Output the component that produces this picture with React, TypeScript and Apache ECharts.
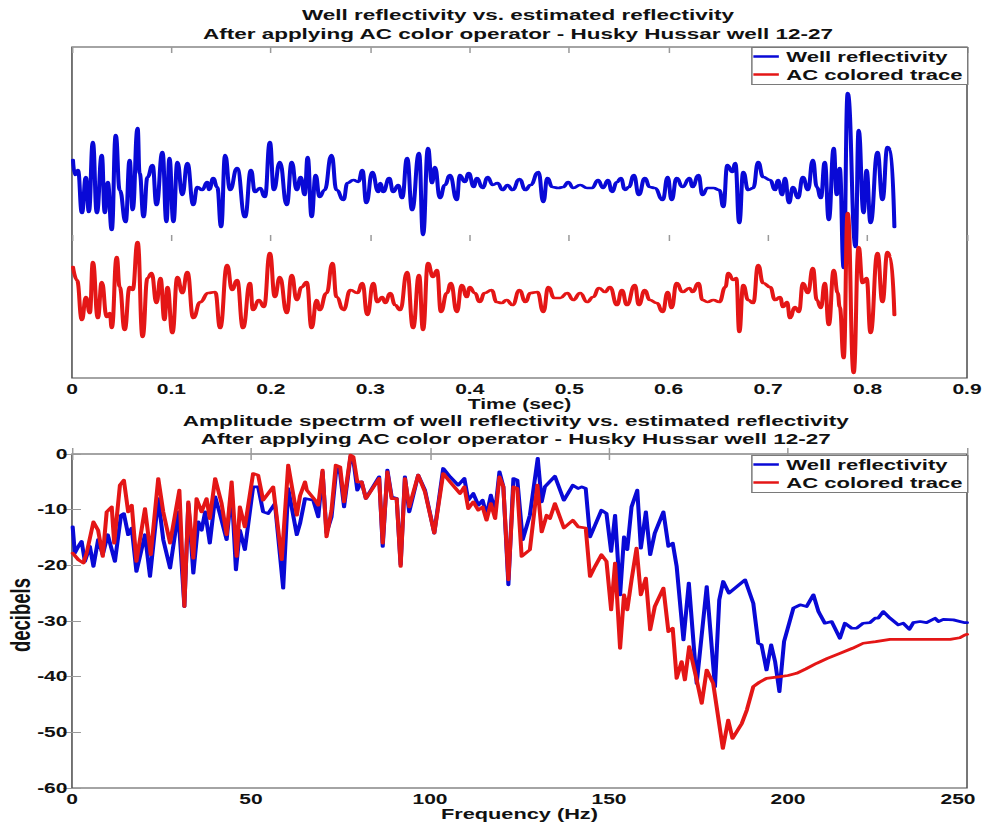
import React, { useEffect, useRef } from "react";
import * as echarts from "echarts";

// ---- Reflectivity traces: [time (s), amplitude about the trace baseline] ----
const wellReflectivity: [number, number][] = [
  [0.001, 0.052], [0.003, 0.022], [0.006, 0.032], [0.010, -0.054], [0.014, 0.018], [0.017, -0.052], [0.021, 0.088], [0.025, -0.054], [0.030, 0.062], [0.033, -0.054],
  [0.036, 0.008], [0.040, -0.088], [0.044, 0.102], [0.048, -0.008], [0.054, -0.072], [0.058, 0.052], [0.061, -0.048], [0.066, 0.116], [0.068, 0.026], [0.072, -0.062],
  [0.076, 0.018], [0.081, 0.042], [0.085, -0.038], [0.091, 0.068], [0.095, -0.072], [0.098, 0.056], [0.102, -0.072], [0.106, 0.048], [0.111, -0.018], [0.116, 0.046],
  [0.122, -0.038], [0.126, -0.002], [0.131, -0.008], [0.136, 0.008], [0.138, -0.008], [0.142, 0.016], [0.146, -0.002], [0.150, -0.082], [0.154, 0.062], [0.159, -0.008],
  [0.166, 0.036], [0.174, -0.062], [0.180, 0.032], [0.184, -0.012], [0.189, -0.004], [0.194, -0.022], [0.199, 0.088], [0.203, -0.008], [0.209, 0.048], [0.216, -0.038],
  [0.221, 0.048], [0.226, -0.008], [0.230, 0.018], [0.234, -0.018], [0.237, 0.058], [0.241, -0.062], [0.245, 0.022], [0.249, -0.022], [0.254, -0.008], [0.261, 0.062],
  [0.266, -0.008], [0.273, -0.028], [0.277, 0.006], [0.283, 0.012], [0.288, 0.008], [0.292, 0.032], [0.296, -0.034], [0.302, 0.028], [0.308, -0.012], [0.310, 0.006],
  [0.313, -0.012], [0.319, 0.016], [0.323, -0.012], [0.328, 0.002], [0.332, -0.024], [0.337, 0.056], [0.342, -0.048], [0.349, 0.066], [0.353, -0.098], [0.358, 0.076],
  [0.362, 0.006], [0.365, 0.038], [0.370, -0.024], [0.375, 0.002], [0.380, 0.022], [0.387, -0.028], [0.390, 0.022], [0.395, 0.008], [0.399, 0.026], [0.404, -0.002],
  [0.407, 0.016], [0.413, -0.004], [0.418, 0.018], [0.423, 0.002], [0.428, 0.006], [0.433, -0.008], [0.438, 0.002], [0.443, -0.008], [0.450, 0.014], [0.456, -0.008],
  [0.461, 0.002], [0.469, 0.028], [0.474, -0.032], [0.478, 0.016], [0.483, -0.002], [0.489, -0.004], [0.494, -0.002], [0.499, 0.008], [0.504, -0.004], [0.511, 0.002],
  [0.518, -0.004], [0.523, -0.004], [0.529, 0.012], [0.534, -0.004], [0.539, 0.012], [0.543, -0.012], [0.548, 0.008], [0.552, 0.016], [0.556, -0.008], [0.560, -0.002],
  [0.565, 0.022], [0.570, -0.018], [0.576, 0.016], [0.581, -0.002], [0.586, -0.004], [0.594, -0.028], [0.599, 0.018], [0.603, -0.028], [0.608, 0.016], [0.614, -0.002],
  [0.621, 0.016], [0.624, -0.002], [0.630, 0.022], [0.634, -0.018], [0.639, -0.004], [0.645, -0.004], [0.651, -0.008], [0.655, -0.042], [0.659, 0.042], [0.664, 0.028],
  [0.667, 0.046], [0.671, -0.074], [0.675, 0.028], [0.680, -0.008], [0.685, -0.004], [0.690, 0.048], [0.695, 0.018], [0.702, 0.012], [0.707, -0.008], [0.710, 0.012],
  [0.714, -0.018], [0.717, 0.016], [0.721, -0.034], [0.725, -0.002], [0.730, -0.024], [0.735, 0.018], [0.740, -0.008], [0.745, 0.052], [0.749, -0.002], [0.753, -0.024],
  [0.757, 0.048], [0.761, -0.068], [0.766, 0.076], [0.769, -0.018], [0.772, 0.036], [0.776, -0.164], [0.780, 0.186], [0.788, -0.122], [0.791, 0.112], [0.796, -0.054],
  [0.799, 0.032], [0.803, -0.074], [0.810, 0.068], [0.815, -0.028], [0.820, 0.078], [0.823, 0.072], [0.827, -0.082],
];

const acColoredTrace: [number, number][] = [
  [0.001, 0.058], [0.005, 0.032], [0.010, -0.048], [0.014, -0.002], [0.018, -0.034], [0.021, 0.068], [0.026, -0.044], [0.030, 0.028], [0.035, -0.042], [0.038, -0.034],
  [0.040, -0.064], [0.045, 0.078], [0.048, 0.018], [0.053, -0.068], [0.058, 0.018], [0.061, 0.012], [0.066, 0.108], [0.071, -0.082], [0.076, 0.036], [0.080, 0.046],
  [0.085, -0.014], [0.089, 0.036], [0.093, -0.048], [0.096, 0.018], [0.101, -0.074], [0.106, 0.038], [0.111, 0.006], [0.116, 0.048], [0.122, -0.044], [0.129, -0.012],
  [0.137, 0.006], [0.144, 0.008], [0.149, -0.064], [0.156, 0.062], [0.161, 0.012], [0.166, 0.032], [0.172, -0.064], [0.179, 0.026], [0.182, -0.028], [0.188, -0.008],
  [0.193, -0.022], [0.199, 0.086], [0.204, -0.002], [0.209, 0.038], [0.216, -0.034], [0.221, 0.042], [0.226, -0.008], [0.231, 0.018], [0.236, 0.028], [0.241, -0.064],
  [0.246, -0.008], [0.249, -0.028], [0.256, 0.006], [0.262, 0.066], [0.266, -0.002], [0.273, -0.028], [0.280, 0.012], [0.287, 0.006], [0.292, 0.026], [0.297, -0.038],
  [0.303, 0.026], [0.307, -0.012], [0.312, -0.002], [0.315, -0.014], [0.320, 0.006], [0.325, -0.018], [0.330, -0.028], [0.337, 0.048], [0.343, -0.064], [0.349, 0.042],
  [0.353, -0.068], [0.358, 0.066], [0.363, 0.038], [0.367, 0.052], [0.371, -0.032], [0.377, 0.006], [0.381, 0.026], [0.387, -0.032], [0.392, 0.022], [0.397, -0.002],
  [0.400, 0.018], [0.405, 0.006], [0.410, -0.012], [0.415, 0.006], [0.422, 0.012], [0.427, -0.012], [0.432, -0.014], [0.437, -0.008], [0.443, -0.018], [0.450, 0.012],
  [0.456, -0.012], [0.461, 0.006], [0.468, 0.008], [0.474, -0.032], [0.479, 0.018], [0.485, -0.004], [0.491, -0.004], [0.498, 0.006], [0.504, -0.008], [0.511, 0.006],
  [0.518, -0.012], [0.524, -0.002], [0.530, 0.016], [0.536, 0.008], [0.541, 0.018], [0.548, -0.018], [0.553, 0.012], [0.558, -0.018], [0.566, 0.022], [0.570, -0.018],
  [0.576, 0.012], [0.581, -0.008], [0.588, -0.014], [0.594, -0.032], [0.599, 0.008], [0.603, -0.024], [0.608, 0.026], [0.614, 0.008], [0.621, 0.016], [0.624, 0.008],
  [0.630, 0.026], [0.634, -0.008], [0.639, -0.012], [0.645, -0.008], [0.651, -0.012], [0.657, 0.018], [0.660, 0.046], [0.665, 0.032], [0.668, 0.036], [0.671, -0.072],
  [0.675, 0.022], [0.680, -0.008], [0.685, -0.014], [0.690, 0.062], [0.695, 0.026], [0.702, 0.018], [0.707, -0.008], [0.712, -0.002], [0.715, -0.022], [0.719, -0.012],
  [0.722, -0.044], [0.727, -0.022], [0.731, -0.032], [0.735, 0.026], [0.740, 0.006], [0.745, 0.056], [0.749, -0.008], [0.753, -0.024], [0.757, 0.026], [0.761, -0.058],
  [0.766, 0.052], [0.770, 0.006], [0.772, -0.022], [0.776, -0.124], [0.780, 0.166], [0.786, -0.154], [0.791, 0.098], [0.795, 0.026], [0.799, 0.036], [0.803, -0.074],
  [0.810, 0.086], [0.815, -0.012], [0.820, 0.088], [0.823, 0.078], [0.827, -0.038],
];

// Vertical separation of the two traces in the time panel
const TRACE_OFFSET = 0.11;

// ---- Amplitude spectra: [frequency (Hz), decibels] ----
const wellSpectrum: [number, number][] = [
  [0.2, -13.1], [0.8, -17.8], [1.8, -16.6], [2.7, -15.7], [3.6, -19.3], [5.0, -16.6], [6.0, -20.2], [7.3, -15.4], [8.6, -18.1], [10.0, -14.5],
  [12.0, -19.3], [13.7, -11.0], [14.5, -10.7], [15.7, -14.5], [16.7, -13.3], [18.0, -21.1], [20.4, -14.5], [21.8, -22.0], [24.1, -8.0], [25.5, -15.4],
  [27.4, -20.5], [29.7, -10.4], [31.4, -27.4], [32.5, -8.9], [33.9, -21.4], [35.3, -12.2], [36.2, -13.7], [37.2, -10.4], [38.5, -16.0], [40.0, -7.7],
  [41.3, -10.7], [43.2, -15.4], [44.6, -6.5], [45.8, -20.8], [46.9, -13.7], [48.3, -17.2], [50.6, -5.9], [52.0, -5.9], [53.4, -10.4], [54.8, -10.7],
  [56.7, -8.9], [59.0, -24.1], [60.4, -6.2], [62.8, -14.5], [63.7, -12.5], [65.1, -8.0], [67.4, -8.3], [68.8, -11.3], [70.0, -3.2], [71.1, -14.2],
  [72.5, -11.3], [73.9, -2.3], [74.9, -3.5], [76.0, -9.5], [77.8, -0.5], [78.6, -1.1], [79.7, -6.5], [80.9, -5.0], [82.1, -8.0], [85.8, -4.1],
  [86.8, -16.6], [88.1, -2.9], [89.3, -7.7], [90.7, -8.0], [91.8, -19.9], [93.0, -4.1], [94.2, -10.4], [96.7, -3.8], [98.6, -6.5], [101.2, -14.2],
  [103.7, -2.6], [105.6, -4.1], [107.9, -5.6], [109.6, -4.4], [110.7, -8.3], [112.1, -7.1], [113.5, -9.2], [114.7, -8.3], [115.8, -11.0], [117.0, -7.4],
  [118.2, -10.4], [119.4, -3.2], [120.5, -5.9], [121.9, -23.5], [123.3, -4.4], [124.4, -4.7], [125.9, -15.4], [127.9, -11.0], [130.1, -0.8], [131.2, -8.6],
  [132.1, -5.9], [134.9, -4.0], [137.4, -8.3], [139.9, -5.6], [141.4, -6.2], [142.4, -5.9], [143.5, -6.2], [144.7, -14.9], [146.1, -12.8], [147.9, -10.1],
  [149.3, -10.7], [150.6, -17.5], [151.7, -11.0], [153.1, -25.3], [154.2, -14.9], [155.1, -17.2], [156.3, -9.5], [157.9, -6.5], [158.9, -16.9], [160.3, -10.4],
  [161.5, -18.1], [162.8, -14.2], [165.2, -10.4], [166.6, -16.6], [167.8, -16.0], [168.9, -20.2], [170.8, -33.4], [172.3, -23.2], [174.5, -41.2], [177.3, -23.8],
  [179.6, -41.8], [180.8, -26.2], [181.9, -22.9], [183.5, -25.0], [188.0, -22.6], [190.3, -26.8], [191.7, -34.0], [192.6, -34.3], [194.0, -38.8], [195.3, -34.3],
  [196.4, -37.3], [197.6, -42.7], [198.9, -33.7], [201.5, -27.7], [203.4, -27.1], [205.2, -27.4], [207.1, -25.3], [208.5, -28.3], [210.3, -30.4], [212.2, -30.1],
  [214.5, -33.1], [215.9, -30.4], [217.8, -31.3], [219.2, -31.3], [221.0, -30.4], [222.9, -30.3], [224.3, -29.5], [225.2, -29.5], [226.6, -28.3], [228.5, -29.5],
  [230.8, -30.7], [232.2, -30.4], [233.9, -31.5], [235.0, -30.3], [236.9, -30.1], [238.7, -30.3], [241.1, -29.5], [242.0, -30.1], [243.4, -29.7], [246.2, -29.8],
  [249.4, -30.3], [250.0, -30.3],
];

const acSpectrum: [number, number][] = [
  [0.2, -17.8], [1.8, -19.0], [3.2, -19.6], [4.1, -17.8], [6.0, -12.2], [7.3, -13.7], [8.6, -18.4], [9.7, -10.4], [11.1, -9.5], [11.8, -16.0],
  [13.4, -5.6], [14.5, -4.7], [15.7, -10.4], [16.7, -9.2], [18.0, -19.3], [20.4, -9.8], [22.0, -18.1], [24.1, -4.4], [25.5, -10.4], [27.4, -16.0],
  [30.0, -6.5], [31.4, -27.4], [32.5, -8.6], [33.9, -18.7], [34.8, -8.0], [36.2, -10.4], [37.6, -8.0], [38.5, -11.6], [40.0, -4.4], [41.8, -8.9],
  [43.2, -14.5], [44.6, -5.0], [46.0, -18.4], [46.9, -9.5], [48.3, -13.1], [50.6, -3.5], [52.0, -3.8], [53.4, -8.3], [56.2, -5.9], [58.6, -19.0],
  [60.4, -2.0], [62.8, -11.0], [63.7, -7.5], [65.1, -5.0], [65.6, -6.5], [67.9, -8.3], [68.8, -9.2], [70.0, -2.9], [71.1, -14.9], [72.5, -10.1],
  [73.7, -2.0], [74.9, -2.3], [76.0, -8.6], [77.8, -0.2], [78.6, -0.5], [79.7, -5.0], [80.9, -5.0], [82.1, -8.0], [85.8, -4.4], [86.8, -16.0],
  [88.1, -3.2], [89.3, -8.0], [90.7, -8.0], [91.8, -20.2], [93.0, -4.4], [94.2, -9.5], [96.7, -3.8], [98.6, -6.8], [101.2, -14.2], [103.7, -3.5],
  [105.6, -5.0], [108.4, -7.1], [109.6, -5.9], [110.7, -9.8], [112.1, -8.6], [113.5, -10.1], [114.7, -9.5], [115.8, -11.9], [117.0, -8.9], [118.2, -11.6],
  [119.4, -4.1], [120.5, -5.9], [121.9, -22.6], [123.3, -5.9], [124.4, -6.2], [125.6, -18.4], [127.9, -17.2], [130.0, -5.6], [131.2, -14.0], [132.6, -11.0],
  [133.5, -11.6], [134.9, -8.9], [137.4, -13.3], [139.9, -11.9], [141.4, -13.1], [143.5, -13.3], [144.7, -22.0], [146.1, -20.2], [147.9, -18.1], [149.3, -19.3],
  [150.6, -28.0], [151.7, -19.6], [153.1, -34.9], [154.2, -25.3], [155.1, -28.0], [156.3, -22.6], [157.7, -16.9], [158.9, -25.3], [160.3, -22.3], [161.5, -31.6],
  [162.8, -27.4], [165.2, -24.1], [166.6, -31.9], [167.8, -31.3], [168.9, -40.3], [170.3, -37.3], [171.2, -40.6], [172.4, -34.6], [174.5, -40.6], [175.9, -44.8],
  [177.3, -38.8], [179.1, -41.2], [181.8, -52.9], [183.3, -47.8], [184.5, -51.1], [187.1, -48.4], [188.5, -46.0], [190.3, -41.8], [192.0, -41.0], [194.0, -40.3],
  [197.8, -40.0], [200.0, -39.8], [202.4, -39.4], [205.0, -38.6], [208.0, -37.6], [211.0, -36.7], [214.5, -35.8], [218.0, -34.9], [221.0, -34.0], [224.5, -33.7],
  [228.5, -33.3], [232.0, -33.3], [237.8, -33.3], [241.5, -33.3], [245.3, -33.3], [248.0, -33.0], [249.4, -32.5], [250.0, -32.4],
];

// ---- Axis ranges ----
const TIME_MIN = 0;
const TIME_MAX = 0.9;
const TIME_STEP = 0.1;
const FREQ_MIN = 0;
const FREQ_MAX = 250;
const FREQ_STEP = 50;
const DB_MIN = -60;
const DB_MAX = 0;
const DB_STEP = 10;
const TRACE_AXIS_MIN = -0.274;
const TRACE_AXIS_MAX = 0.388;

const SERIES_NAMES = ["Well reflectivity", "AC colored trace"];

// The figure is laid out on a narrow canvas and stretched horizontally.
const PAGE_W = 982;
const PAGE_H = 823;
const BASE_W = 655;

// Panel frames (in the narrow canvas)
const PLOT_LEFT = 48;
const PLOT_RIGHT = 10;
const TOP_PANEL = { top: 47, height: 331 };
const BOTTOM_PANEL = { top: 454, height: 334 };
const LEGEND_BOX = { width: 144, height: 37 };

const FONT = "'Liberation Sans', Arial, Helvetica, sans-serif";
const BLUE = "#0909d6";
const RED = "#e41616";
const FRAME = "#4a4a4a";
const TICK = "#9a9a9a";
const TEXT = "#111111";

const tickLabel = {
  fontFamily: FONT,
  fontSize: 14,
  fontWeight: "bold" as const,
  color: TEXT,
};

const fmtTime = (v: number) => String(Math.round(v * 10) / 10);
// The last frequency label sits a little inside the right frame edge.
const fmtFreq = (v: number) => (v === FREQ_MAX ? `{edge|${v}}` : `${v}`);

function buildOption(): echarts.EChartsOption {
  const boxLeft = BASE_W - PLOT_RIGHT - LEGEND_BOX.width;

  const legendBase = {
    orient: "vertical" as const,
    left: boxLeft + 1.5,
    icon: "rect",
    itemWidth: 17,
    itemHeight: 2.5,
    itemGap: 3,
    padding: [2, 2, 2, 0],
    borderWidth: 0,
    backgroundColor: "transparent",
    selectedMode: false as const,
    data: SERIES_NAMES,
    textStyle: {
      fontFamily: FONT,
      fontSize: 14.7,
      fontWeight: "bold" as const,
      color: TEXT,
    },
  };

  const legendFrame = (top: number) => ({
    type: "rect" as const,
    z: 3,
    silent: true,
    shape: {
      x: boxLeft + 0.5,
      y: top + 0.5,
      width: LEGEND_BOX.width,
      height: LEGEND_BOX.height,
    },
    style: { fill: "#ffffff", stroke: "#7a7a7a", lineWidth: 1 },
  });

  const titleStyle = {
    fontFamily: FONT,
    fontSize: 15,
    fontWeight: "bold" as const,
    color: TEXT,
    lineHeight: 18.5,
  };

  const lineSeries = (
    name: string,
    color: string,
    data: number[][],
    xi: number,
    yi: number,
    smooth: number | boolean
  ) => ({
    type: "line" as const,
    name,
    xAxisIndex: xi,
    yAxisIndex: yi,
    data,
    symbol: "none",
    smooth,
    smoothMonotone: "x" as const,
    lineStyle: { color, width: 2.7, join: "round" as const, cap: "round" as const },
    itemStyle: { color },
    emphasis: { disabled: true },
    silent: true,
  });

  const gridBase = {
    left: PLOT_LEFT,
    right: PLOT_RIGHT,
    show: true,
    borderColor: FRAME,
    borderWidth: 1,
    backgroundColor: "#fff",
    containLabel: false,
    outerBoundsMode: "none",
  };

  const tickOnly = {
    axisLine: { show: false },
    axisTick: { inside: true, length: 6, lineStyle: { color: TICK } },
    axisLabel: { show: false },
    splitLine: { show: false },
  };

  return {
    animation: false,
    backgroundColor: "#ffffff",
    title: [
      {
        text:
          "Well reflectivity vs. estimated reflectivity\nAfter applying AC color operator - Husky Hussar well 12-27",
        left: 345.5,
        top: 6,
        textAlign: "center",
        padding: 0,
        textStyle: titleStyle,
      },
      {
        text:
          "Amplitude spectrm of well reflectivity vs. estimated reflectivity\nAfter applying AC color operator - Husky Hussar well 12-27",
        left: 344,
        top: 411.5,
        textAlign: "center",
        padding: 0,
        textStyle: { ...titleStyle, lineHeight: 18 },
      },
    ],
    graphic: [legendFrame(TOP_PANEL.top), legendFrame(BOTTOM_PANEL.top + 1)],
    legend: [
      { ...legendBase, top: TOP_PANEL.top },
      { ...legendBase, top: BOTTOM_PANEL.top + 1 },
    ],
    grid: [
      { ...gridBase, ...TOP_PANEL },
      { ...gridBase, ...BOTTOM_PANEL },
    ],
    xAxis: [
      {
        type: "value",
        gridIndex: 0,
        position: "bottom",
        min: TIME_MIN,
        max: TIME_MAX,
        interval: TIME_STEP,
        name: "Time (sec)",
        nameLocation: "middle",
        nameGap: 19,
        nameMoveOverlap: false,
        nameTextStyle: { fontFamily: FONT, fontSize: 14, fontWeight: "bold", color: TEXT },
        axisLine: { show: false },
        axisTick: { inside: true, length: 6, lineStyle: { color: TICK } },
        axisLabel: { ...tickLabel, margin: 4, formatter: fmtTime },
        splitLine: { show: false },
      },
      {
        type: "value",
        gridIndex: 0,
        position: "top",
        min: TIME_MIN,
        max: TIME_MAX,
        interval: TIME_STEP,
        ...tickOnly,
      },
      {
        type: "value",
        gridIndex: 1,
        position: "bottom",
        min: FREQ_MIN,
        max: FREQ_MAX,
        interval: FREQ_STEP,
        name: "Frequency (Hz)",
        nameLocation: "middle",
        nameGap: 18,
        nameMoveOverlap: false,
        nameTextStyle: { fontFamily: FONT, fontSize: 14.5, fontWeight: "bold", color: TEXT },
        axisLine: { show: false },
        axisTick: { inside: true, length: 6, lineStyle: { color: TICK } },
        axisLabel: {
          ...tickLabel,
          margin: 4,
          formatter: fmtFreq,
          rich: { edge: { ...tickLabel, padding: [0, 12, 0, 0] } },
        },
        splitLine: { show: false },
      },
      {
        type: "value",
        gridIndex: 1,
        position: "top",
        min: FREQ_MIN,
        max: FREQ_MAX,
        interval: FREQ_STEP,
        ...tickOnly,
      },
    ],
    yAxis: [
      {
        type: "value",
        gridIndex: 0,
        min: TRACE_AXIS_MIN,
        max: TRACE_AXIS_MAX,
        axisLine: { show: false },
        axisTick: { show: false },
        axisLabel: { show: false },
        splitLine: { show: false },
      },
      {
        type: "value",
        gridIndex: 1,
        position: "left",
        min: DB_MIN,
        max: DB_MAX,
        interval: DB_STEP,
        name: "decibels",
        nameLocation: "middle",
        nameRotate: 90,
        nameGap: 25,
        nameMoveOverlap: false,
        nameTextStyle: {
          fontFamily: FONT,
          fontSize: 18.5,
          fontWeight: "bold",
          color: TEXT,
          padding: [0, 0, 0, 12],
        },
        axisLine: { show: false },
        axisTick: { inside: true, length: 6, lineStyle: { color: TICK } },
        axisLabel: { ...tickLabel, margin: 3 },
        splitLine: { show: false },
      },
      {
        type: "value",
        gridIndex: 1,
        position: "right",
        min: DB_MIN,
        max: DB_MAX,
        interval: DB_STEP,
        ...tickOnly,
      },
    ],
    series: [
      lineSeries(
        SERIES_NAMES[0],
        BLUE,
        wellReflectivity.map(([t, a]) => [t, a + TRACE_OFFSET]),
        0,
        0,
        0.5
      ),
      lineSeries(
        SERIES_NAMES[1],
        RED,
        acColoredTrace.map(([t, a]) => [t, a - TRACE_OFFSET]),
        0,
        0,
        0.5
      ),
      lineSeries(SERIES_NAMES[0], BLUE, wellSpectrum, 2, 1, false),
      lineSeries(SERIES_NAMES[1], RED, acSpectrum, 2, 1, false),
    ],
  } as echarts.EChartsOption;
}

export default function App() {
  const ref = useRef<HTMLDivElement>(null);

  useEffect(() => {
    if (!ref.current) return;
    const chart = echarts.init(ref.current, null, { renderer: "svg" });
    chart.setOption(buildOption());
    return () => chart.dispose();
  }, []);

  return (
    <div
      style={{
        position: "fixed",
        left: 0,
        top: 0,
        width: PAGE_W,
        height: PAGE_H,
        overflow: "hidden",
        background: "#ffffff",
      }}
    >
      <div
        ref={ref}
        style={{
          width: BASE_W,
          height: PAGE_H,
          transform: `scaleX(${PAGE_W / BASE_W})`,
          transformOrigin: "0 0",
        }}
      />
    </div>
  );
}
